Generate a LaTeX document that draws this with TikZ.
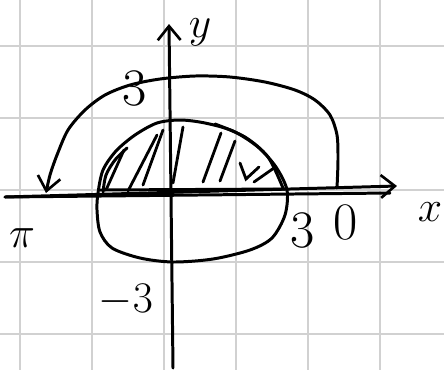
\documentclass[tikz,border=0pt]{standalone}
\usetikzlibrary{arrows.meta}
\begin{document}
\begin{tikzpicture}[
  x=0.02cm, y=-0.02cm,
  pen/.style={line width=1.7pt, line cap=round, line join=round},
  gridline/.style={line width=1.2pt, black!18},
  hatch/.style={line width=1.6pt, line cap=round},
  lbl/.style={font=\fontsize{30}{34}\selectfont, inner sep=0pt},
  tip/.style={-{Straight Barb[length=8pt, width=13pt, line width=1.5pt]}}
]
\useasboundingbox[fill=white] (0,0) rectangle (444,370);

% grid paper
\foreach \gx in {20,92,...,380} \draw[gridline] (\gx,0) -- (\gx,370);
\foreach \gy in {46,118,...,334} \draw[gridline] (0,\gy) -- (444,\gy);

% axes
\coordinate (xl) at (5,197);
\coordinate (xr) at (397,186);
\coordinate (yb) at (173,368);
\coordinate (yt) at (169,24);
\draw[pen, tip] (xl) -- (xr);
\draw[pen] (xl) -- (390,193);
\draw[pen, tip] (yb) -- (yt);

% circle, upper half hatched
\draw[pen] plot[smooth cycle] coordinates {
  (98,193) (103,170) (116,151) (135,135) (157,123) (180,120) (205,123)
  (233,131) (258,147) (276,167) (287,190) (285,215) (272,238) (250,250)
  (213,259) (173,262) (140,258) (112,248) (100,232) (97,210)};
\draw[pen] plot[smooth] coordinates {(103,192) (106,175) (115,160) (127,148)};
\draw[pen] plot[smooth] coordinates {(215,124) (245,137) (268,157) (283,188)};
\draw[pen] (100,190) -- (285,189);
\draw[hatch] (106,190) -- (124,150);
\draw[hatch] (128,191) -- (157,135);
\draw[hatch] (143,185) -- (163,130);
\draw[hatch] (173,183) -- (183,127);
\draw[hatch] (203,182) -- (221,133);
\draw[hatch] (220,181) -- (235,141);
\draw[hatch] (240,163) -- (246,179) -- (259,167);
\draw[hatch] (254,182) -- (274,168);

% arc from 0 round to pi
\coordinate (arcfrom) at (337,188);
\coordinate (arcto) at (46,193);
\draw[pen, tip] plot[smooth] coordinates {
  (arcfrom) (338,160) (337,135) (330,115) (315,100) (295,90) (265,82)
  (230,77) (195,76) (160,79) (130,85) (105,95) (85,110) (68,130)
  (57,155) (50,175) (arcto)};

% labels
\node[lbl] (ylab) at (200,32) {$y$};
\node[lbl] (xlab) at (430,212) {$x$};
\node[lbl] (top3) at (135,88) {3};
\node[lbl] (pi) at (22,238) {$\pi$};
\node[lbl] (r3) at (303,230) {3};
\node[lbl] (zero) at (346,222) {0};
\node[lbl] (m3) at (126,300) {$-3$};
\end{tikzpicture}
\end{document}
